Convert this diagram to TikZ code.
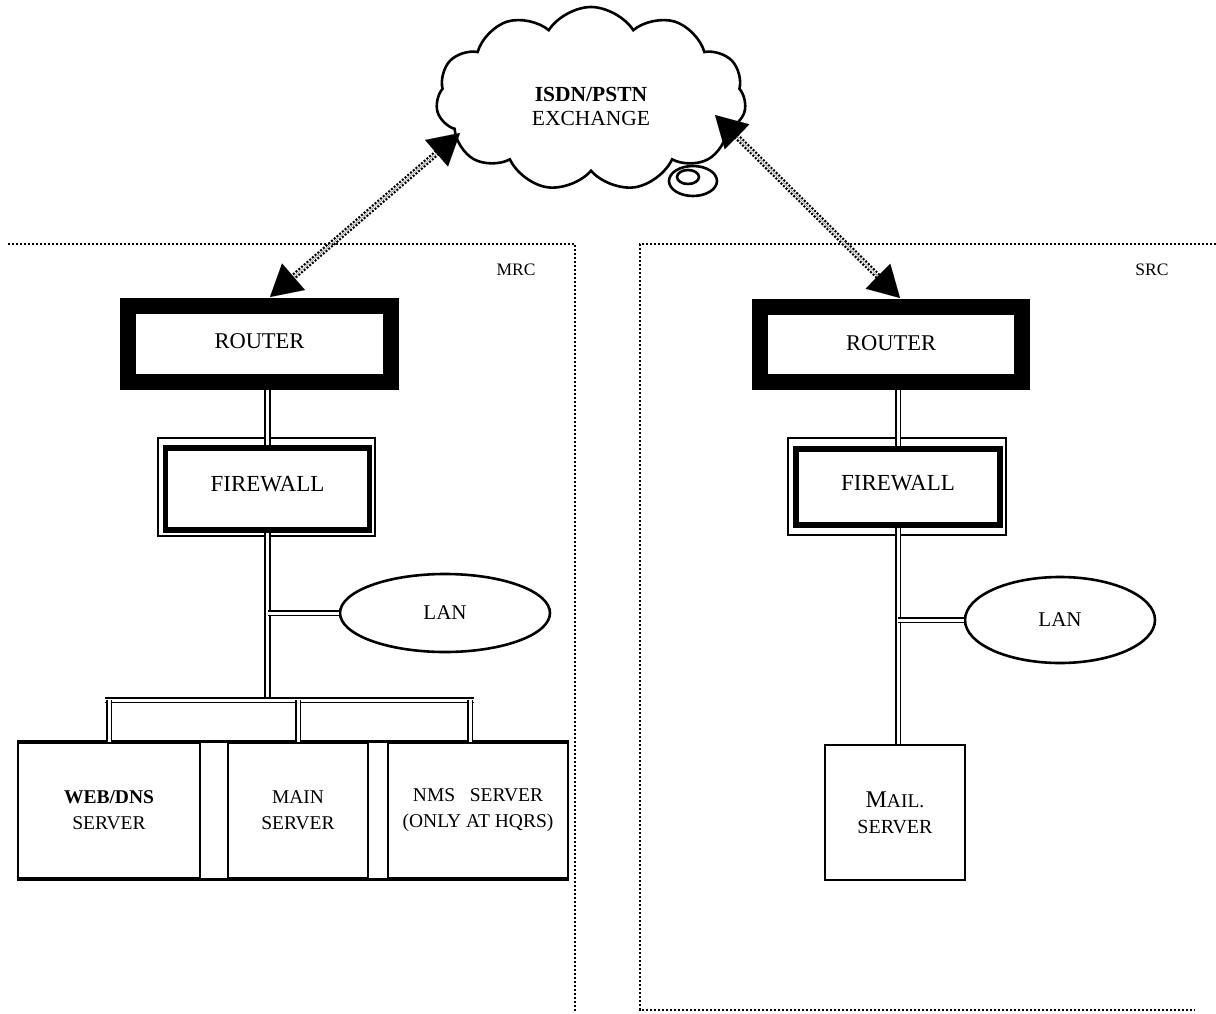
\documentclass[tikz,border=0pt]{standalone}
\usepackage{fontspec}
\setmainfont{Liberation Serif}
\usetikzlibrary{shapes.geometric,shapes.symbols,arrows.meta,calc}
\begin{document}
\begin{tikzpicture}[x=1pt,y=-1pt,
  bord/.style={line width=2.2pt, dash pattern=on 2.2pt off 1.8pt},
  rtr/.style={draw, line width=16pt, rectangle, font=\fontsize{22.5}{26}\selectfont},
  fw/.style={draw, line width=5.5pt, rectangle, font=\fontsize{23}{26}\selectfont},
  frame/.style={line width=2pt},
  dbl/.style={double distance=3pt, line width=1.8pt},
  srv/.style={draw, line width=2.6pt, rectangle, align=center, font=\fontsize{19.5}{26}\selectfont},
  lan/.style={draw, ellipse, line width=2.6pt, inner sep=0pt, font=\fontsize{21}{24}\selectfont},
  arrline/.style={double, double distance=1.8pt, line width=2.2pt, dash pattern=on 2pt off 1.6pt, shorten <=26pt, shorten >=26pt},
  tipline/.style={line width=0.01pt, {Triangle[length=31pt,width=35pt]}-{Triangle[length=31pt,width=35pt]}},
  lbl/.style={font=\fontsize{17.5}{20}\selectfont}
]
\useasboundingbox (0,0) rectangle (1216,1014);

% region borders
\draw[bord] (8,244) -- (575,244) -- (575,1012);
\draw[bord] (1216,244) -- (640,244) -- (640,1010) -- (1195,1010);
\node[lbl] (mrc) at (516,270) {MRC};
\node[lbl] (src) at (1152,270) {SRC};

% cloud
\node[cloud, draw, line width=2.6pt, fill=white, cloud puffs=11, cloud puff arc=115, aspect=1.75,
      minimum width=310pt, minimum height=184pt, font=\fontsize{21.5}{24}\selectfont]
      (cloud) at (591,99) {\raisebox{-15pt}[0pt][0pt]{\begin{tabular}{@{}c@{}}\textbf{ISDN/PSTN}\\EXCHANGE\end{tabular}}};
\draw[line width=2.6pt, fill=white] (693,181) ellipse (24pt and 15pt);
\draw[line width=2.6pt] (688,177) ellipse (11pt and 7pt);

% left side (MRC)
\node[rtr, minimum width=263pt, minimum height=76pt] (rtrL) at (259.5,344) {\raisebox{5pt}{ROUTER}};
\node[fw, minimum width=204pt, minimum height=82pt] (fwL) at (267.5,489) {\raisebox{10pt}{FIREWALL}};
\draw[frame] ([shift={(-5,-7)}]fwL.north west) rectangle ([shift={(3,3)}]fwL.south east);
\node[lan, minimum width=210pt, minimum height=78pt] (lanL) at (445,613) {LAN};

\node[srv, minimum width=182pt, minimum height=135pt] (web) at (109,810.5) {\textbf{WEB/DNS}\\SERVER};
\node[srv, minimum width=140pt, minimum height=135pt] (main) at (298,810.5) {MAIN\\SERVER};
\node[srv, minimum width=180pt, minimum height=135pt] (nms) at (478,810.5) {NMS~~~SERVER\\(ONLY AT HQRS)};
\draw[line width=2.8pt] (web.north west) -- (nms.north east);
\draw[line width=2.8pt] (web.south west) -- (nms.south east);

\coordinate (bus) at (0,700);
\draw[dbl] (fwL.north |- rtrL.south) -- (fwL.north);
\draw[dbl] (fwL.south) -- (fwL.south |- bus);
\draw[dbl] (fwL.south |- lanL.west) -- (lanL.west);
\draw[dbl] ($(web.north |- bus)+(-4,0)$) -- ($(nms.north |- bus)+(-4,0)$);
\draw[dbl] (web.north |- bus) -- (web.north);
\draw[dbl] (main.north |- bus) -- (main.north);
\draw[dbl] ($(nms.north |- bus)+(-8,0)$) -- ($(nms.north)+(-8,0)$);

% right side (SRC)
\node[rtr, minimum width=262pt, minimum height=75pt] (rtrR) at (891,344.5) {\raisebox{3pt}{ROUTER}};
\node[fw, minimum width=204pt, minimum height=76pt] (fwR) at (898,487) {\raisebox{9pt}{FIREWALL}};
\draw[frame] ([shift={(-5.5,-8.5)}]fwR.north west) rectangle ([shift={(3,7.5)}]fwR.south east);
\node[lan, minimum width=190pt, minimum height=86pt] (lanR) at (1060,620) {LAN};
\node[srv, minimum width=140pt, minimum height=135pt] (mail) at (895,812.5)
  {{\fontsize{24}{26}\selectfont M}AIL.\\{\fontsize{20}{26}\selectfont SERVER}};

\draw[dbl] (fwR.north |- rtrR.south) -- (fwR.north);
\draw[dbl] (fwR.south) -- (fwR.south |- mail.north);
\draw[dbl] (fwR.south |- lanR.west) -- (lanR.west);

% links to exchange
\coordinate (cL) at (460,133);
\coordinate (rL) at (270,297);
\coordinate (cR) at (715,115);
\coordinate (rR) at (900,298);
\draw[arrline] (cL) -- (rL);
\draw[tipline] (cL) -- (rL);
\draw[arrline] (cR) -- (rR);
\draw[tipline] (cR) -- (rR);
\end{tikzpicture}
\end{document}
